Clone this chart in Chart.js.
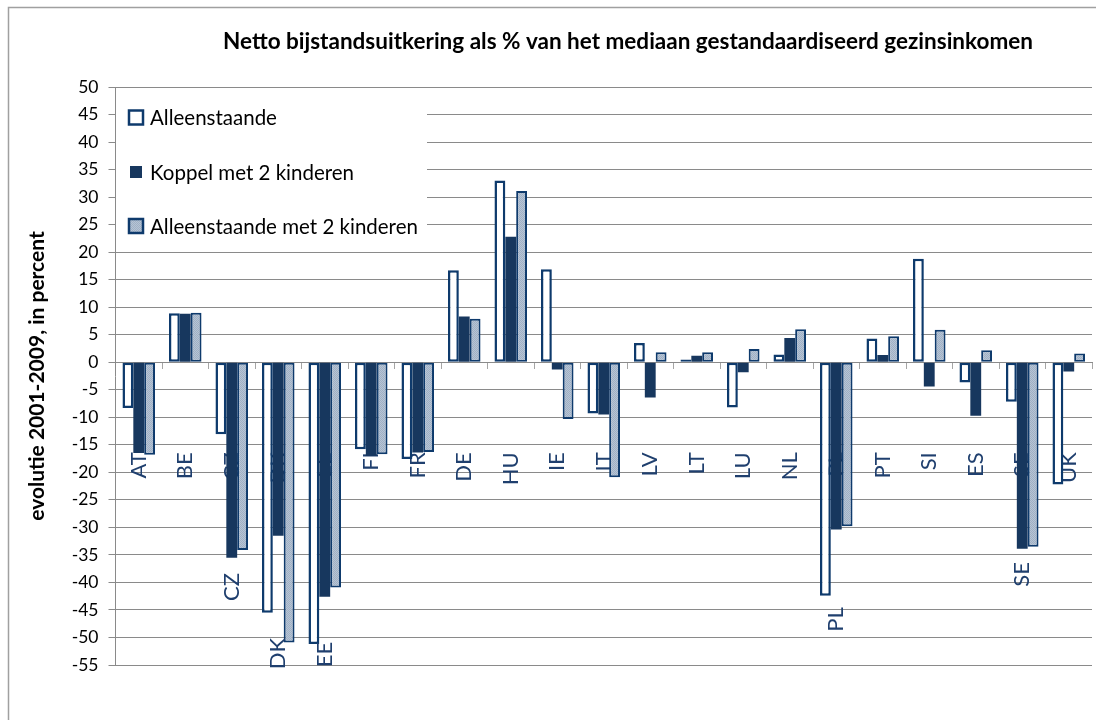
<!DOCTYPE html>
<html><head><meta charset="utf-8">
<script src="https://cdn.jsdelivr.net/npm/chart.js@4"></script>
<style>html,body{margin:0;padding:0;background:#fff;}#wrap{width:1096px;height:720px;position:relative;}</style>
</head><body><div id="wrap"><canvas id="c"></canvas></div>
<script>
const chartTitle = 'Netto bijstandsuitkering als % van het mediaan gestandaardiseerd gezinsinkomen';
const yAxisTitle = 'evolutie 2001-2009, in percent';
const categories = ['AT','BE','CZ','DK','EE','FI','FR','DE','HU','IE','IT','LV','LT','LU','NL','PL','PT','SI','ES','SE','UK'];
const seriesNames = ['Alleenstaande','Koppel met 2 kinderen','Alleenstaande met 2 kinderen'];
const alleenstaande = [-8.3, 8.9, -13.1, -45.5, -51.2, -15.8, -17.6, 16.7, 33.0, 16.9, -9.3, 3.5, 0.5, -8.2, 1.4, -42.4, 4.3, 18.8, -3.7, -7.2, -22.2];
const koppel2 = [-16.5, 8.8, -35.5, -31.5, -42.6, -17.0, -16.4, 8.3, 22.8, -1.3, -9.5, -6.4, 1.2, -1.8, 4.4, -30.4, 1.3, -4.4, -9.7, -33.9, -1.7];
const alleen2 = [-16.8, 9.0, -34.1, -50.9, -40.9, -16.7, -16.3, 7.9, 31.1, -10.3, -20.9, 1.8, 1.8, 2.4, 6.0, -29.8, 4.7, 5.9, 2.2, -33.5, 1.6];
const yMin = -55, yMax = 50, yStep = 5;
// repeated category labels that the original shows below some bars
const repeatedLabels = ['CZ','DK','EE','PL','SE'];
const repeatedLabelAt = [-38.3, -50.1, -50.8, -44.5, -36.3];

const NAVY = '#17375e', EDGE = '#0e3a6c';
const FONT = 'Lato, "Open Sans", sans-serif';

function makePattern(){
  const p = document.createElement('canvas'); p.width = 2; p.height = 2;
  const g = p.getContext('2d');
  g.fillStyle = '#b7c4d4'; g.fillRect(0,0,2,2);
  g.fillStyle = '#9fb0c5'; g.fillRect(0,0,1,1); g.fillRect(1,1,1,1);
  return g.createPattern(p, 'repeat');
}
const hatch = makePattern();

const decor = {
  id: 'decor',
  afterDatasetsDraw(chart){
    const ctx = chart.ctx, xs = chart.scales.x, ys = chart.scales.y;
    ctx.save();
    // legend box inside plot
    ctx.fillStyle = '#fff';
    ctx.fillRect(116, 95, 311, 150);
    const items = [
      {fill:'#fff', stroke:EDGE, y:117.5, s:14},
      {fill:NAVY, stroke:null, y:172, s:12},
      {fill:hatch, stroke:EDGE, y:226, s:14}
    ];
    items.forEach((it,i)=>{
      const cx = 136;
      ctx.fillStyle = it.fill;
      ctx.fillRect(cx - it.s/2, it.y - it.s/2, it.s, it.s);
      if (it.stroke){ ctx.strokeStyle = it.stroke; ctx.lineWidth = 2.5; ctx.strokeRect(cx - it.s/2, it.y - it.s/2, it.s, it.s); }
      ctx.fillStyle = '#000';
      ctx.font = '20.5px ' + FONT;
      ctx.textAlign = 'left'; ctx.textBaseline = 'middle';
      ctx.fillText(seriesNames[i], 150, it.y + 1);
    });
    // repeated labels
    ctx.fillStyle = '#1f3f6e';
    ctx.font = '22px ' + FONT;
    repeatedLabels.forEach((lab,i)=>{
      const idx = categories.indexOf(lab);
      const x = xs.getPixelForValue(idx), y = ys.getPixelForValue(repeatedLabelAt[i]);
      ctx.save(); ctx.translate(x, y); ctx.rotate(-Math.PI/2);
      ctx.textAlign = 'right'; ctx.textBaseline = 'middle';
      ctx.fillText(lab, 0, 0); ctx.restore();
    });
    ctx.restore();
  },
  afterDraw(chart){
    const ctx = chart.ctx;
    ctx.save();
    ctx.strokeStyle = '#a0a0a0'; ctx.lineWidth = 1.5;
    ctx.strokeRect(8.5, 7.5, 1200, 800);
    ctx.fillStyle = '#000';
    ctx.font = 'bold 22.5px ' + FONT;
    ctx.textAlign = 'center'; ctx.textBaseline = 'middle';
    ctx.fillText(chartTitle, 628, 42);
    ctx.restore();
  }
};

const barCommon = {borderSkipped:false, categoryPercentage:0.7, barPercentage:1.0};
new Chart(document.getElementById('c'), {
  type: 'bar',
  data: {
    labels: categories,
    datasets: [
      Object.assign({label: seriesNames[0], data: alleenstaande, backgroundColor:'#fff', borderColor:EDGE, borderWidth:2.5}, barCommon),
      Object.assign({label: seriesNames[1], data: koppel2, backgroundColor:NAVY, borderColor:NAVY, borderWidth:0}, barCommon),
      Object.assign({label: seriesNames[2], data: alleen2, backgroundColor:hatch, borderColor:EDGE, borderWidth:2}, barCommon)
    ]
  },
  options: {
    responsive: true, maintainAspectRatio: false, animation: false,
    layout: {padding: {top: 87, right: 4, bottom: 55, left: 0}},
    plugins: {legend: {display:false}, tooltip: {enabled:false}, title: {display:false}},
    scales: {
      x: {
        position: {y: 0},
        z: 1,
        afterFit(s){ s.height = 0; s.paddingLeft = 0; s.paddingRight = 0; },
        grid: {display:true, drawOnChartArea:false, offset:true, tickLength:6, tickColor:'#a6a6a6', color:'#a6a6a6'},
        border: {display:true, color:'#8a8a8a'},
        ticks: {autoSkip:false, minRotation:90, maxRotation:90, padding:84, color:'#1f3f6e', font:{family:FONT, size:22}}
      },
      y: {
        min: yMin, max: yMax,
        afterFit(s){ s.width = 115.5; },
        ticks: {stepSize: yStep, padding: 10, color:'#000', font:{family:FONT, size:17.5}},
        grid: {color:'#8a8a8a', lineWidth:1, tickLength:7, tickColor:'#8a8a8a'},
        border: {color:'#8a8a8a'},
        title: {display:true, text:yAxisTitle, color:'#000', font:{family:FONT, size:21, weight:'bold'}, padding:{top:25, bottom:0}}
      }
    }
  },
  plugins: [decor]
});
</script></body></html>
